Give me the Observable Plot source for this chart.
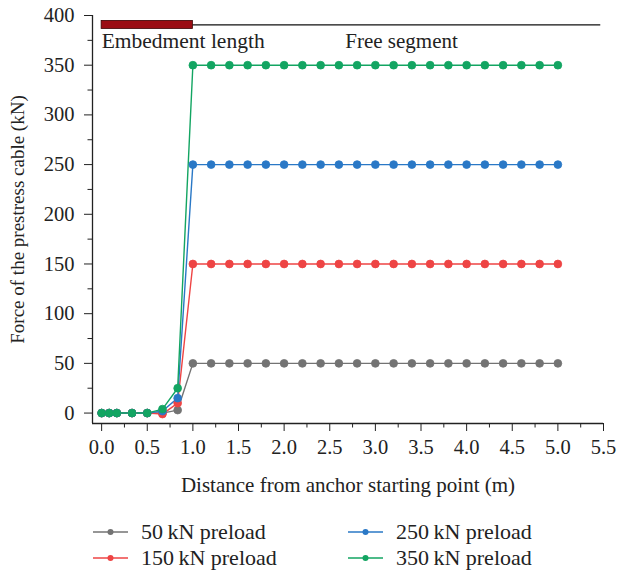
<!DOCTYPE html>
<html>
<head>
<meta charset="utf-8">
<script src="https://cdn.jsdelivr.net/npm/d3@7"></script>
<script src="https://cdn.jsdelivr.net/npm/@observablehq/plot@0.6"></script>
<style>
  body { margin: 0; background: #fff; font-family: "Liberation Serif", serif; }
  #chart { width: 617px; height: 500px; }
  .legend { position: relative; width: 617px; height: 74px; font-family: "Liberation Serif", serif; font-size: 22px; color: #222; }
  .item { position: absolute; display: flex; align-items: center; height: 24px; }
  .item svg { margin-right: 13px; }
</style>
</head>
<body>
<div id="chart"></div>
<div class="legend" id="legend"></div>
<script>
// ---- data ----
const distances = [0, 1/12, 1/6, 1/3, 0.5, 2/3, 5/6, 1.0,
  1.2, 1.4, 1.6, 1.8, 2.0, 2.2, 2.4, 2.6, 2.8, 3.0, 3.2, 3.4, 3.6, 3.8, 4.0, 4.2, 4.4, 4.6, 4.8, 5.0];
const seriesNames = ["50kN preload", "150kN preload", "250kN preload", "350kN preload"];
const seriesColors = ["#737373", "#ee4444", "#2a78c6", "#13a562"];
const tail = n => Array(20).fill(n);
const force50  = [0, 0, 0, 0, 0, 0, 3, 50, ...tail(50)];
const force150 = [0, 0, 0, 0, 0, -1, 10, 150, ...tail(150)];
const force250 = [0, 0, 0, 0, 0, 2, 15, 250, ...tail(250)];
const force350 = [0, 0, 0, 0, 0, 4, 25, 350, ...tail(350)];
const seriesValues = [force50, force150, force250, force350];
const xTicks = [0, 0.5, 1.0, 1.5, 2.0, 2.5, 3.0, 3.5, 4.0, 4.5, 5.0, 5.5];
const yTicks = [0, 50, 100, 150, 200, 250, 300, 350, 400];
const embedment = [{x1: 0, x2: 1.0, label: "Embedment length"}];
const freeSegment = [{x1: 1.0, x2: 5.47, label: "Free segment", lx: 2.67}];
const segLevel = 390.5;

// ---- build table ----
const rows = [];
seriesNames.forEach((name, i) => {
  distances.forEach((d, j) => rows.push({series: name, x: d, y: seriesValues[i][j]}));
});

const xMin = -0.1, yMin = -10.5;
const font = '"Liberation Serif", serif';

const chart = Plot.plot({
  width: 617,
  height: 500,
  marginLeft: 92,
  marginRight: 14,
  marginTop: 15,
  marginBottom: 77,
  style: {fontFamily: font, fontSize: "20px", color: "#222", background: "#fff"},
  x: {domain: [xMin, 5.5]},
  y: {domain: [yMin, 400]},
  color: {domain: seriesNames, range: seriesColors},
  marks: [
    // axes frame
    Plot.ruleX([xMin], {stroke: "#222", strokeWidth: 1.3}),
    Plot.ruleY([yMin], {stroke: "#222", strokeWidth: 1.3}),
    // minor ticks
    Plot.axisX(d3.range(0.25, 5.5, 0.5), {tickSize: 4.5, text: null, label: null, stroke: "#222", anchor: "bottom"}),
    Plot.axisY(d3.range(25, 400, 50), {tickSize: 4.5, text: null, label: null, stroke: "#222", anchor: "left"}),
    // major ticks
    Plot.axisX(xTicks, {tickSize: 8, tickPadding: 8, stroke: "#222", fill: "#222",
      tickFormat: d3.format(".1f"), fontSize: 20.5, fontFamily: font, anchor: "bottom", label: null}),
    Plot.axisX([], {anchor: "bottom", fontSize: 21, fontFamily: font, fill: "#222",
      label: "Distance from anchor starting point (m)", labelAnchor: "center", labelOffset: 68, labelArrow: "none"}),
    Plot.axisY(yTicks, {tickSize: 8, tickPadding: 10, stroke: "#222", fill: "#222",
      fontSize: 20.5, fontFamily: font, anchor: "left", label: null}),
    Plot.axisY([], {anchor: "left", fontSize: 19, fontFamily: font, fill: "#222",
      label: "Force of the prestress cable (kN)", labelAnchor: "center", labelOffset: 82, labelArrow: "none"}),
    // segment indicators
    Plot.ruleY(freeSegment, {y: () => segLevel, x1: "x1", x2: "x2", stroke: "#111", strokeWidth: 1.3}),
    Plot.rect(embedment, {x1: "x1", x2: "x2", y1: segLevel - 4, y2: segLevel + 4, fill: "#9b0d14", stroke: "#3a0000", strokeWidth: 0.8}),
    Plot.text(embedment, {x: "x1", y: segLevel, text: "label", textAnchor: "start", dy: 16, fontSize: 21.5, fontFamily: font, fill: "#222"}),
    Plot.text(freeSegment, {x: "lx", y: segLevel, text: "label", textAnchor: "start", dy: 16, fontSize: 21, fontFamily: font, fill: "#222"}),
    // series
    Plot.line(rows, {x: "x", y: "y", stroke: "series", z: "series", strokeWidth: 1.4}),
    Plot.dot(rows, {x: "x", y: "y", fill: "series", stroke: "series", r: 3.9, strokeWidth: 0.8}),
  ]
});
chart.querySelectorAll("text").forEach(t => t.setAttribute("font-family", font));
document.getElementById("chart").appendChild(chart);

// ---- legend ----
const legend = document.getElementById("legend");
const pos = [[93, 20], [93, 46], [348, 20], [348, 46]];
seriesNames.forEach((name, i) => {
  const item = document.createElement("div");
  item.className = "item";
  item.style.left = pos[i][0] + "px";
  item.style.top = pos[i][1] + "px";
  item.innerHTML = `<svg width="35" height="10"><line x1="0" y1="5" x2="35" y2="5" stroke="${seriesColors[i]}" stroke-width="1.4"/><circle cx="17.5" cy="5" r="3" fill="${seriesColors[i]}"/></svg><span>${name.replace("kN", "\u2009kN")}</span>`;
  legend.appendChild(item);
});
</script>
</body>
</html>
